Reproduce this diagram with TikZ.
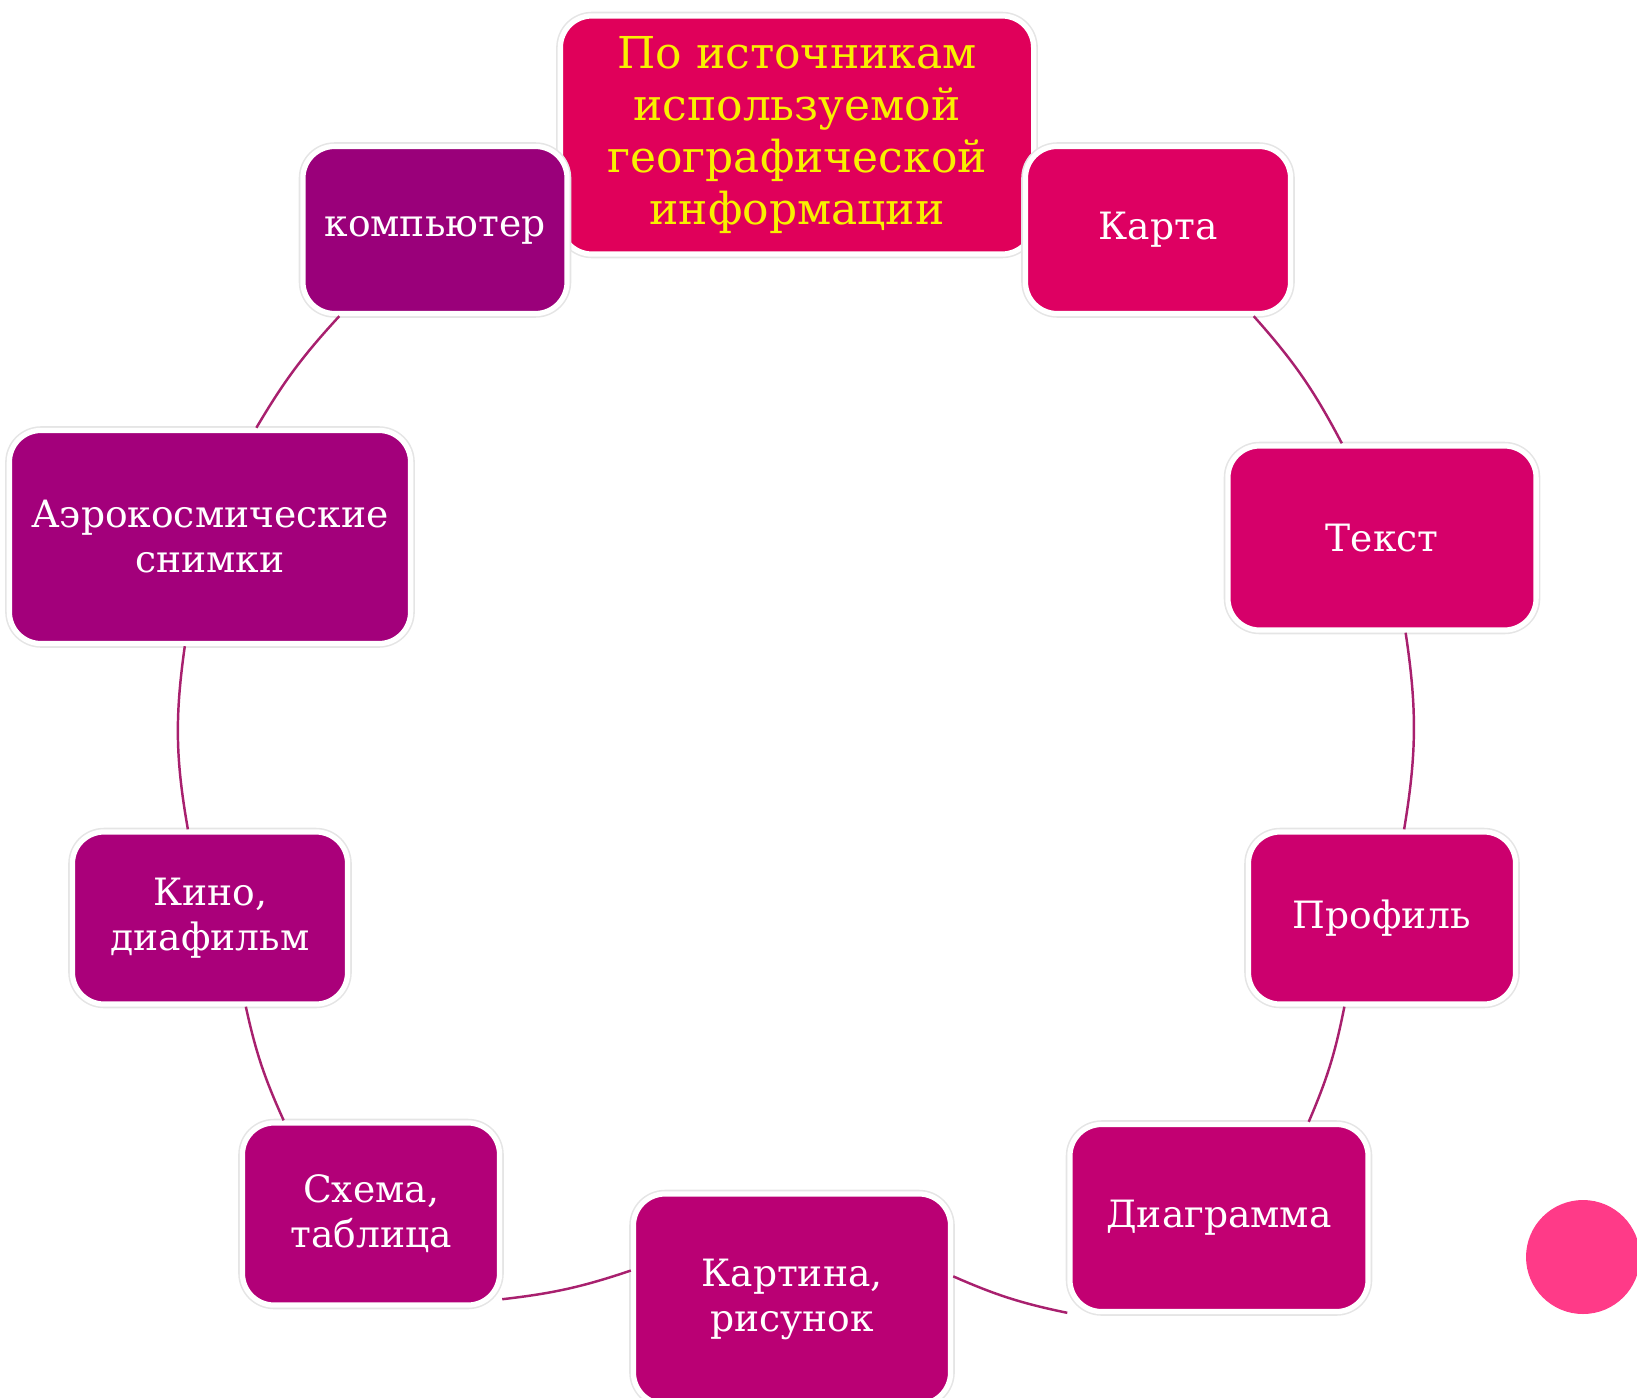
\documentclass[tikz,border=0pt]{standalone}
\usepackage{fontspec}
\setmainfont{DejaVu Serif}
\usepackage{tikz}

\definecolor{topc}{HTML}{E0005A}
\definecolor{kartac}{HTML}{DE0062}
\definecolor{tekstc}{HTML}{D6006A}
\definecolor{profilc}{HTML}{CC006E}
\definecolor{diagc}{HTML}{C20072}
\definecolor{kartinac}{HTML}{BA0074}
\definecolor{skhemac}{HTML}{B20078}
\definecolor{kinoc}{HTML}{AA007A}
\definecolor{aeroc}{HTML}{A3007B}
\definecolor{kompc}{HTML}{9A007A}
\definecolor{linkc}{HTML}{A8206E}
\definecolor{dotc}{HTML}{FF3A88}
\definecolor{titlec}{HTML}{F8F000}

\begin{document}
\begin{tikzpicture}[x=0.01cm,y=-0.01cm,every node/.style={align=center,font=\fontsize{10.7}{12.8}\selectfont,text=white},box/.style={rounded corners=9pt,draw=white,line width=1.5pt,inner sep=0pt,preaction={draw=black!10,line width=2.4pt}},conn/.style={draw=linkc,line width=0.7pt}]
\useasboundingbox (0,0) rectangle (1637,1397);
\clip (0,0) rectangle (1637,1397);
\node[box,fill=topc,text=titlec,minimum width=4.73cm,minimum height=2.38cm,font=\fontsize{12.5}{14.8}\selectfont] (top) at (797,135) {По источникам\\используемой\\географической\\информации};
\node[box,fill=kompc,minimum width=2.64cm,minimum height=1.67cm] (komp) at (435,230) {компьютер};
\node[box,fill=kartac,minimum width=2.65cm,minimum height=1.67cm] (karta) at (1158,230) {Карта};
\node[box,fill=tekstc,minimum width=3.08cm,minimum height=1.84cm] (tekst) at (1382,538) {Текст};
\node[box,fill=profilc,minimum width=2.67cm,minimum height=1.72cm] (profil) at (1382,918) {Профиль};
\node[box,fill=diagc,minimum width=2.98cm,minimum height=1.87cm] (diag) at (1219,1218) {Диаграмма};
\node[box,fill=kartinac,minimum width=3.17cm,minimum height=2.1cm] (kartina) at (792,1299) {Картина,\\рисунок};
\node[box,fill=skhemac,minimum width=2.57cm,minimum height=1.82cm] (skhema) at (371,1214) {Схема,\\таблица};
\node[box,fill=kinoc,minimum width=2.75cm,minimum height=1.72cm] (kino) at (210,918) {Кино,\\диафильм};
\node[box,fill=aeroc,minimum width=4.01cm,minimum height=2.13cm] (aero) at (210,537) {Аэрокосмические\\снимки};
\draw[conn] (karta.-42) to[bend left=7] (tekst.113);
\draw[conn] (tekst.-76) to[bend left=9] (profil.76);
\draw[conn] (profil.-113) to[bend left=6] (diag.47);
\draw[conn] (diag.-148) to[bend left=6] (kartina.8);
\draw[conn] (kartina.170) to[bend left=6] (skhema.-33);
\draw[conn] (skhema.133) to[bend left=6] (kino.-68);
\draw[conn] (kino.104) to[bend left=9] (aero.-103);
\draw[conn] (aero.67) to[bend left=6] (komp.-138);
\fill[dotc] (1583,1257) circle (57);
\end{tikzpicture}
\end{document}
